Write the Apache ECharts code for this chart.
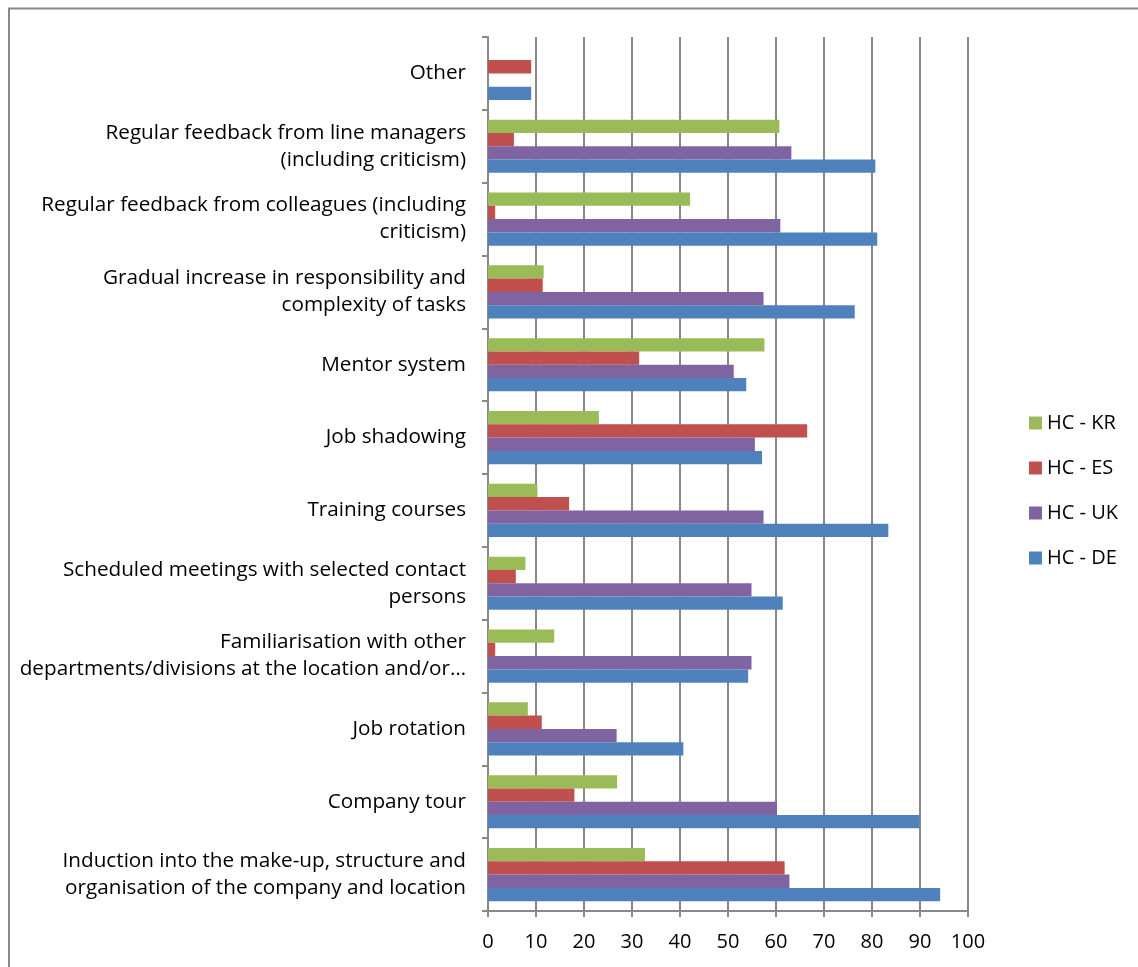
<!DOCTYPE html>
<html>
<head>
<meta charset="utf-8">
<script src="https://cdn.jsdelivr.net/npm/echarts@6/dist/echarts.min.js"></script>
<style>html,body{margin:0;padding:0;background:#fff;}#c{width:1138px;height:967px;}</style>
</head>
<body>
<div id="c"></div>
<script>
// bottom to top
const categories = [
  "Induction into the make-up, structure and\norganisation of the company and location",
  "Company tour",
  "Job rotation",
  "Familiarisation with other\ndepartments/divisions at the location and/or…",
  "Scheduled meetings with selected contact\npersons",
  "Training courses",
  "Job shadowing",
  "Mentor system",
  "Gradual increase in responsibility and\ncomplexity of tasks",
  "Regular feedback from colleagues (including\ncriticism)",
  "Regular feedback from line managers\n(including criticism)",
  "Other"
];
// series listed top to bottom within each category
const seriesNames = ["HC - KR", "HC - ES", "HC - UK", "HC - DE"];
const valuesKR = [32.7, 26.9, 8.3, 13.8, 7.8, 10.3, 23.1, 57.6, 11.6, 42.1, 60.7, 0];
const valuesES = [61.8, 18.0, 11.2, 1.5, 5.8, 16.9, 66.5, 31.5, 11.4, 1.5, 5.4, 9.0];
const valuesUK = [62.8, 60.2, 26.8, 54.9, 54.9, 57.4, 55.6, 51.2, 57.4, 60.9, 63.2, 0];
const valuesDE = [94.2, 89.9, 40.7, 54.2, 61.4, 83.4, 57.1, 53.8, 76.4, 81.1, 80.7, 9.0];
const xTicks = { min: 0, max: 100, interval: 10 };
const colors = ["#9bbb59", "#c0504d", "#8064a2", "#4f81bd"];

const FONT = "Open Sans";
const chart = echarts.init(document.getElementById('c'), null, { renderer: 'canvas' });
const allValues = [valuesKR, valuesES, valuesUK, valuesDE];
chart.setOption({
  animation: false,
  backgroundColor: '#fff',
  textStyle: { fontFamily: FONT },
  graphic: [{
    type: 'rect', silent: true,
    shape: { x: 9, y: 8.5, width: 1300, height: 1100 },
    style: { fill: 'none', stroke: '#888888', lineWidth: 2 }
  }],
  legend: {
    orient: 'vertical',
    left: 1029, top: 413, padding: 0,
    itemWidth: 13, itemHeight: 13, itemGap: 25,
    icon: 'rect',
    data: ["HC - KR", "HC - ES", "HC - UK", "HC - DE"],
    textStyle: { fontFamily: FONT, fontSize: 20, color: '#000', lineHeight: 20, padding: [0, 0, 0, 0] }
  },
  grid: { left: 488, right: 170, top: 37, bottom: 56, containLabel: false },
  xAxis: {
    type: 'value', min: xTicks.min, max: xTicks.max, interval: xTicks.interval,
    axisLine: { show: true, lineStyle: { color: '#888888', width: 2 } },
    axisTick: { show: true, length: 6, lineStyle: { color: '#888888', width: 2 } },
    splitLine: { show: true, lineStyle: { color: '#888888', width: 2 } },
    axisLabel: { color: '#000', fontSize: 20, fontFamily: FONT, margin: 21 }
  },
  yAxis: {
    type: 'category', data: categories,
    axisLine: { show: true, lineStyle: { color: '#888888', width: 2 } },
    axisTick: { show: true, length: 6, lineStyle: { color: '#888888', width: 2 } },
    axisLabel: { color: '#000', fontSize: 20.7, fontFamily: FONT, margin: 22, lineHeight: 27, align: 'right', padding: [5, 0, 0, 0] }
  },
  series: seriesNames.map((n, i) => ({
    name: n, type: 'bar', data: allValues[i],
    barGap: '0%', barCategoryGap: '27%',
    itemStyle: { color: colors[i] }
  }))
});
</script>
</body>
</html>
